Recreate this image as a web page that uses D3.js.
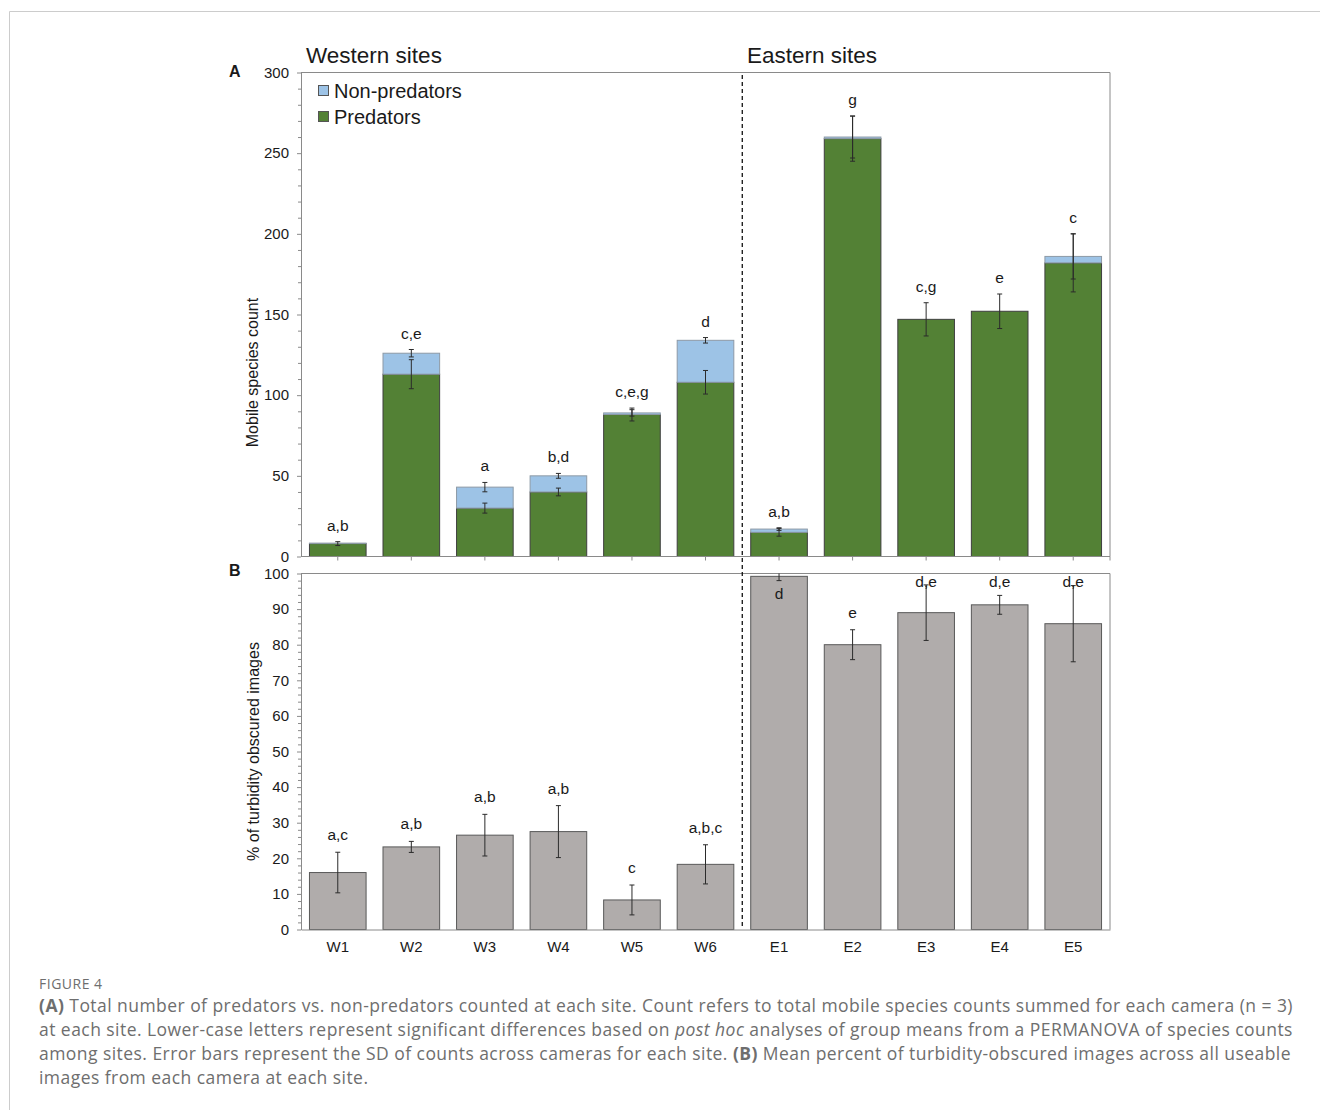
<!DOCTYPE html>
<html>
<head>
<meta charset="utf-8">
<script src="https://cdn.jsdelivr.net/npm/d3@7"></script>
<style>
  html, body { margin: 0; padding: 0; background: #fff; }
  svg { display: block; }
  .chart text { font-family: "Liberation Sans", Arial, Helvetica, sans-serif !important; fill: #1a1a1a; }
  .caption text { font-family: "Open Sans", Lato, sans-serif; fill: #6e6e6e; }
</style>
</head>
<body>
<svg id="fig" width="1320" height="1110"></svg>
<script>
// Sites along the x axis (western group, then eastern group)
const sites = ["W1", "W2", "W3", "W4", "W5", "W6", "E1", "E2", "E3", "E4", "E5"];
const westernCount = 6;

// Panel A: summed mobile species counts per site
const predators    = [8, 113, 30, 40, 88, 108, 15, 259, 147, 152, 182];
const nonPredators = [0.3, 13, 13, 10, 1, 26, 2, 1, 0, 0, 4];
const predatorSD   = [1.2, 9, 3.1, 2.4, 4, 7.3, 2.4, 14, 10.3, 10.7, 18];
const totalSD      = [0, 2.3, 2.9, 1.5, 2, 1.7, 0.8, 13, 0, 0, 14];
const lettersA     = ["a,b", "c,e", "a", "b,d", "c,e,g", "d", "a,b", "g", "c,g", "e", "c"];

// Panel B: mean % of turbidity-obscured images per site
const turbidity    = [16, 23.2, 26.5, 27.5, 8.3, 18.3, 99.2, 80, 89, 91.2, 85.9];
const turbiditySD  = [5.7, 1.55, 5.85, 7.3, 4.2, 5.5, 1.2, 4.2, 7.8, 2.65, 10.7];
const lettersB     = ["a,c", "a,b", "a,b", "a,b", "c", "a,b,c", "d", "e", "d,e", "d,e", "d,e"];

// Axis ticks
const ticksA = [0, 50, 100, 150, 200, 250, 300];
const ticksB = [0, 10, 20, 30, 40, 50, 60, 70, 80, 90, 100];
const seriesNames = ["Non-predators", "Predators"];

const colors = { pred: "#538135", nonPred: "#9dc3e6", turb: "#b0acab", edge: "#3f3f3f", axis: "#8a8a8a", err: "#2b2b2b" };
const FONT = "'Liberation Sans', Arial, Helvetica, sans-serif";

const svg = d3.select("#fig");

// Outer figure frame (top and left rules)
svg.append("line").attr("x1", 9.5).attr("x2", 1320).attr("y1", 11.5).attr("y2", 11.5).attr("stroke", "#cccccc");
svg.append("line").attr("x1", 9.5).attr("x2", 9.5).attr("y1", 11.5).attr("y2", 1110).attr("stroke", "#cccccc");

const chart = svg.append("g").attr("class", "chart").attr("font-family", FONT);

const left = 301, right = 1110;
const x = d3.scaleBand().domain(sites).range([left, right]).paddingInner(0.23).paddingOuter(0.115);
const yA = d3.scaleLinear().domain([0, 300]).range([556.5, 72.5]);
const yB = d3.scaleLinear().domain([0, 100]).range([929.5, 573.5]);

const rows = sites.map((s, i) => ({
  site: s, pred: predators[i], non: nonPredators[i], total: predators[i] + nonPredators[i],
  predSD: predatorSD[i], totSD: totalSD[i], letterA: lettersA[i],
  turb: turbidity[i], turbSD: turbiditySD[i], letterB: lettersB[i]
}));

function frame(y, top) {
  // plot box: top and right borders
  chart.append("path")
    .attr("d", `M${left},${top}H${right}V${y.range()[0]}`)
    .attr("fill", "none").attr("stroke", colors.axis);
}

function yAxis(y, ticks, minorStep) {
  const [lo, hi] = y.domain();
  const minor = d3.range(lo, hi + 0.001, minorStep).filter(v => !ticks.includes(v));
  chart.append("g").attr("transform", `translate(${left},0)`)
    .call(d3.axisLeft(y).tickValues(minor).tickSize(3).tickFormat(""))
    .call(g => g.select(".domain").remove())
    .call(g => g.selectAll("line").attr("stroke", colors.axis));
  chart.append("g").attr("transform", `translate(${left},0)`)
    .call(d3.axisLeft(y).tickValues(ticks).tickSize(4).tickPadding(8).tickSizeOuter(0))
    .attr("font-family", FONT)
    .call(g => g.select(".domain").attr("stroke", colors.axis))
    .call(g => g.selectAll("line").attr("stroke", colors.axis))
    .call(g => g.selectAll("text").attr("font-size", 15).attr("fill", "#1a1a1a"));
}

function errorBar(g, cx, y, mean, sd, clipTop) {
  if (!sd) return;
  let hi = mean + sd;
  const lo = mean - sd;
  const capped = clipTop !== undefined && hi > clipTop;
  if (capped) hi = clipTop;
  const eb = g.append("g").attr("stroke", colors.err).attr("stroke-width", 1);
  eb.append("line").attr("x1", cx).attr("x2", cx).attr("y1", y(hi)).attr("y2", y(lo));
  if (!capped) eb.append("line").attr("x1", cx - 2.5).attr("x2", cx + 2.5).attr("y1", y(hi)).attr("y2", y(hi));
  eb.append("line").attr("x1", cx - 2.5).attr("x2", cx + 2.5).attr("y1", y(lo)).attr("y2", y(lo));
}

// ---------- Panel A: stacked counts ----------
frame(yA, yA(300));
yAxis(yA, ticksA, 10);

const barsA = chart.append("g");
rows.forEach(d => {
  const bx = x(d.site), bw = x.bandwidth();
  barsA.append("rect").attr("x", bx).attr("width", bw)
    .attr("y", yA(d.pred)).attr("height", yA(0) - yA(d.pred))
    .attr("fill", colors.pred).attr("stroke", colors.edge).attr("stroke-width", 1);
  if (d.non > 0) {
    barsA.append("rect").attr("x", bx).attr("width", bw)
      .attr("y", yA(d.total)).attr("height", yA(d.pred) - yA(d.total))
      .attr("fill", colors.nonPred).attr("stroke", "#8d9aa6").attr("stroke-width", 1);
  }
});
rows.forEach(d => {
  const cx = x(d.site) + x.bandwidth() / 2;
  errorBar(barsA, cx, yA, d.pred, d.predSD);
  errorBar(barsA, cx, yA, d.total, d.totSD);
  const top = Math.max(d.pred + d.predSD, d.total + d.totSD);
  barsA.append("text").attr("x", cx).attr("y", yA(top) - 11)
    .attr("text-anchor", "middle").attr("font-size", 15.5).text(d.letterA);
});

// x axis of panel A: ticks at category centres
const xAxisA = chart.append("g").attr("transform", `translate(0,${yA(0)})`);
xAxisA.append("line").attr("x1", left).attr("x2", right).attr("stroke", colors.axis);
xAxisA.selectAll("line.tk").data(sites.concat(["_end"])).join("line").attr("class", "tk")
  .attr("x1", s => s === "_end" ? right : x(s) + x.bandwidth() / 2)
  .attr("x2", s => s === "_end" ? right : x(s) + x.bandwidth() / 2)
  .attr("y1", 0).attr("y2", 4).attr("stroke", colors.axis);

// legend
const legend = chart.append("g");
[[seriesNames[0], colors.nonPred, 98], [seriesNames[1], colors.pred, 124]].forEach(([name, c, yb]) => {
  legend.append("rect").attr("x", 318.5).attr("y", yb - 12.5).attr("width", 10).attr("height", 10)
    .attr("fill", c).attr("stroke", "#555");
  legend.append("text").attr("x", 334).attr("y", yb).attr("font-size", 20).text(name);
});

// ---------- Panel B: turbidity ----------
frame(yB, yB(100));
yAxis(yB, ticksB, 2);

const barsB = chart.append("g");
rows.forEach(d => {
  barsB.append("rect").attr("x", x(d.site)).attr("width", x.bandwidth())
    .attr("y", yB(d.turb)).attr("height", yB(0) - yB(d.turb))
    .attr("fill", colors.turb).attr("stroke", "#595959").attr("stroke-width", 1);
});
rows.forEach(d => {
  const cx = x(d.site) + x.bandwidth() / 2;
  errorBar(barsB, cx, yB, d.turb, d.turbSD, 100);
  const top = d.turb + d.turbSD;
  let yb;
  if (top >= 100) yb = yB(d.turb) + 23;          // no room above: label inside the bar
  else yb = Math.max(yB(top) - 12, yB(100) + 13);
  barsB.append("text").attr("x", cx).attr("y", yb)
    .attr("text-anchor", "middle").attr("font-size", 15.5).text(d.letterB);
});

chart.append("g").attr("transform", `translate(0,${yB(0)})`)
  .call(d3.axisBottom(x).tickSize(0).tickPadding(12))
  .attr("font-family", FONT)
  .call(g => g.select(".domain").attr("stroke", colors.axis))
  .call(g => g.selectAll("text").attr("font-size", 15).attr("fill", "#1a1a1a"));

// dashed divider between western and eastern sites
const divX = (x(sites[westernCount - 1]) + x.bandwidth() + x(sites[westernCount])) / 2;
chart.append("line").attr("x1", divX).attr("x2", divX).attr("y1", 75).attr("y2", 928)
  .attr("stroke", "#111").attr("stroke-width", 1.3).attr("stroke-dasharray", "4,3");

// group titles, panel letters, axis titles
chart.append("text").attr("x", 306).attr("y", 63).attr("font-size", 22.5).text("Western sites");
chart.append("text").attr("x", 747).attr("y", 63).attr("font-size", 22.5).text("Eastern sites");
chart.append("text").attr("x", 229).attr("y", 77).attr("font-size", 16).attr("font-weight", "bold").text("A");
chart.append("text").attr("x", 229).attr("y", 576).attr("font-size", 16).attr("font-weight", "bold").text("B");
chart.append("text").attr("transform", `translate(258,${(yA(0) + yA(300)) / 2 + 58}) rotate(-90)`)
  .attr("text-anchor", "middle").attr("font-size", 16).text("Mobile species count");
chart.append("text").attr("transform", `translate(259,${(yB(0) + yB(100)) / 2}) rotate(-90)`)
  .attr("text-anchor", "middle").attr("font-size", 16).text("% of turbidity obscured images");

// ---------- Caption ----------
const cap = svg.append("g").attr("class", "caption");
cap.append("text").attr("x", 39).attr("y", 989).attr("font-size", 14).attr("letter-spacing", 0.5)
  .attr("fill", "#777").text("FIGURE 4");
const lines = [
  [["(A)", "b"], [" Total number of predators vs. non-predators counted at each site. Count refers to total mobile species counts summed for each camera (n = 3)", ""]],
  [["at each site. Lower-case letters represent significant differences based on ", ""], ["post hoc", "i"], [" analyses of group means from a PERMANOVA of species counts", ""]],
  [["among sites. Error bars represent the SD of counts across cameras for each site. ", ""], ["(B)", "b"], [" Mean percent of turbidity-obscured images across all useable", ""]],
  [["images from each camera at each site.", ""]]
];
lines.forEach((parts, i) => {
  const t = cap.append("text").attr("x", 39).attr("y", 1012 + i * 24)
    .attr("font-size", 17.5).attr("letter-spacing", 0.45);
  parts.forEach(([s, st]) => {
    const ts = t.append("tspan").text(s);
    if (st === "b") ts.attr("font-weight", "bold");
    if (st === "i") ts.attr("font-style", "italic");
  });
});
</script>
</body>
</html>
